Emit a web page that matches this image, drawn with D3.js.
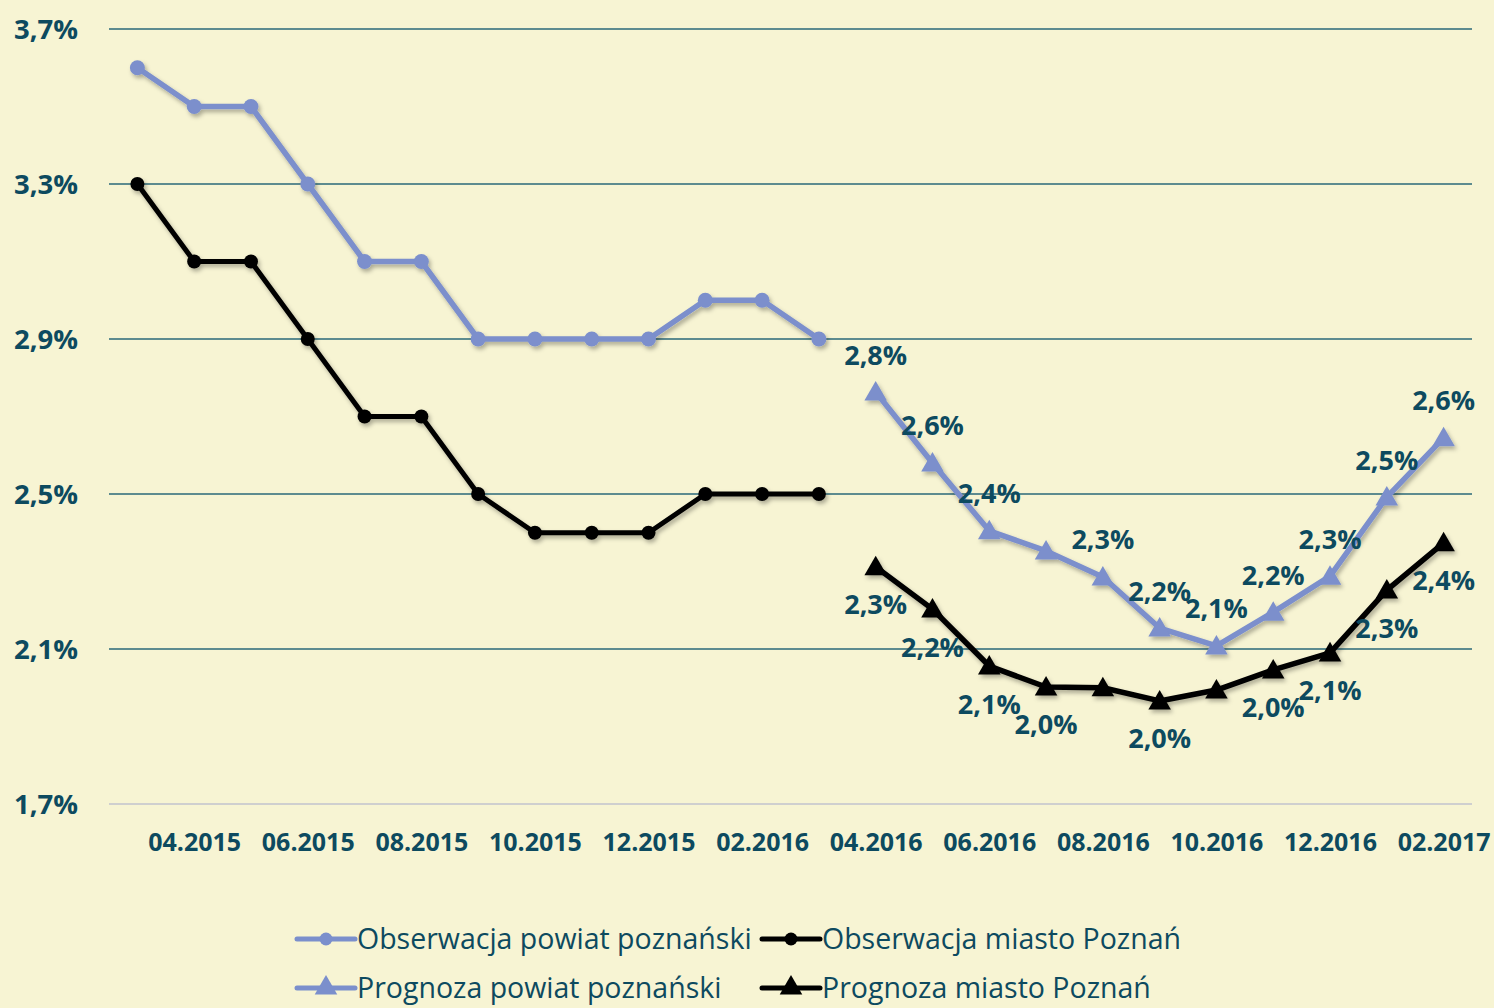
<!DOCTYPE html>
<html>
<head>
<meta charset="utf-8">
<script src="https://cdn.jsdelivr.net/npm/d3@7/dist/d3.min.js"></script>
<style>
  html, body { margin: 0; padding: 0; background: #F7F4D3; }
  svg { display: block; }
</style>
</head>
<body>
<svg id="chart" width="1494" height="1008"></svg>
<script>
// ---- DATA ----
const months = ["03.2015","04.2015","05.2015","06.2015","07.2015","08.2015","09.2015","10.2015","11.2015","12.2015","01.2016","02.2016","03.2016","04.2016","05.2016","06.2016","07.2016","08.2016","09.2016","10.2016","11.2016","12.2016","01.2017","02.2017"];
const tickLabels = ["04.2015","06.2015","08.2015","10.2015","12.2015","02.2016","04.2016","06.2016","08.2016","10.2016","12.2016","02.2017"];
const yTicks = [1.7, 2.1, 2.5, 2.9, 3.3, 3.7];

const obsPowiatMonths = months.slice(0, 13);
const obsPowiat = [3.6, 3.5, 3.5, 3.3, 3.1, 3.1, 2.9, 2.9, 2.9, 2.9, 3.0, 3.0, 2.9];
const obsMiasto = [3.3, 3.1, 3.1, 2.9, 2.7, 2.7, 2.5, 2.4, 2.4, 2.4, 2.5, 2.5, 2.5];

const progMonths = months.slice(13);
const progPowiat = [2.763, 2.580, 2.405, 2.353, 2.286, 2.154, 2.108, 2.195, 2.288, 2.492, 2.645];
const progPowiatLabels = ["2,8%","2,6%","2,4%",null,"2,3%","2,2%","2,1%","2,2%","2,3%","2,5%","2,6%"];
const progMiasto = [2.312, 2.203, 2.056, 2.002, 2.000, 1.966, 1.994, 2.046, 2.090, 2.252, 2.374];
const progMiastoLabels = ["2,3%","2,2%","2,1%","2,0%",null,"2,0%",null,"2,0%","2,1%","2,3%","2,4%"];

const legendItems = [
  {name: "Obserwacja powiat poznański", color: "#7B8FCC", symbol: "circle", col: 0, row: 0},
  {name: "Obserwacja miasto Poznań", color: "#000000", symbol: "circle", col: 1, row: 0},
  {name: "Prognoza powiat poznański", color: "#7B8FCC", symbol: "triangle", col: 0, row: 1},
  {name: "Prognoza miasto Poznań", color: "#000000", symbol: "triangle", col: 1, row: 1}
];

// ---- STYLE ----
const BLUE = "#7B8FCC", BLACK = "#000000", TEXT = "#0D4A5F", GRID = "#2A6878";
const FONT = "'Open Sans', 'DejaVu Sans', sans-serif";

const svg = d3.select("#chart");
svg.append("rect").attr("width",1494).attr("height",1008).attr("fill","#F7F4D3");

const defs = svg.append("defs");
const f = defs.append("filter").attr("id","shadow").attr("x","-20%").attr("y","-20%").attr("width","140%").attr("height","140%");
f.append("feDropShadow").attr("dx",2).attr("dy",3).attr("stdDeviation",2).attr("flood-color","#000").attr("flood-opacity",0.3);

const x = d3.scalePoint().domain(months).range([109, 1472]).padding(0.5);
const y = d3.scaleLinear().domain([1.7, 3.7]).range([804, 29]);

// gridlines
const grid = svg.append("g");
grid.selectAll("line").data(yTicks).join("line")
  .attr("x1", 109).attr("x2", 1472)
  .attr("y1", d => y(d)).attr("y2", d => y(d))
  .attr("stroke", d => d === 1.7 ? "#CFCFCF" : GRID)
  .attr("stroke-width", d => d === 1.7 ? 2 : 1.6);

// y axis labels
const yAxis = d3.axisLeft(y).tickValues(yTicks).tickSize(0).tickPadding(0)
  .tickFormat(d => d3.format(".1f")(d).replace(".", ",") + "%");
const yg = svg.append("g").attr("transform","translate(78,0)").call(yAxis);
yg.select(".domain").remove();
yg.selectAll("text").attr("fill", TEXT).attr("font-family", FONT).attr("font-weight", "bold")
  .attr("font-size", 27.5).attr("dy", "0.35em");

// x axis labels
const xAxis = d3.axisBottom(x).tickValues(tickLabels).tickSize(0).tickPadding(0);
const xg = svg.append("g").attr("transform","translate(0,842)").call(xAxis);
xg.select(".domain").remove();
xg.selectAll("text").attr("fill", TEXT).attr("font-family", FONT).attr("font-weight", "bold")
  .attr("font-size", 25).attr("dy", "0.35em");

const tri = d3.symbol().type(d3.symbolTriangle).size(220);
const triLeg = d3.symbol().type(d3.symbolTriangle).size(220);

function drawSeries(mths, vals, color, width, symbol, r) {
  const data = mths.map((m, i) => ({m, v: vals[i]}));
  const g = svg.append("g").attr("filter","url(#shadow)");
  g.append("path").datum(data)
    .attr("d", d3.line().x(d => x(d.m)).y(d => y(d.v)))
    .attr("fill","none").attr("stroke", color).attr("stroke-width", width)
    .attr("stroke-linejoin","round");
  if (symbol === "circle") {
    g.selectAll("circle").data(data).join("circle")
      .attr("cx", d => x(d.m)).attr("cy", d => y(d.v)).attr("r", r).attr("fill", color);
  } else {
    g.selectAll("path.m").data(data).join("path").attr("class","m")
      .attr("d", tri).attr("transform", d => `translate(${x(d.m)},${y(d.v)+2})`).attr("fill", color);
  }
  return data;
}

drawSeries(obsPowiatMonths, obsPowiat, BLUE, 5.5, "circle", 7.5);
drawSeries(obsPowiatMonths, obsMiasto, BLACK, 5, "circle", 7);
const pp = drawSeries(progMonths, progPowiat, BLUE, 5.5, "triangle");
const pm = drawSeries(progMonths, progMiasto, BLACK, 5.5, "triangle");

// data labels
function labels(data, labs, dy) {
  svg.append("g").selectAll("text").data(data.map((d, i) => ({...d, l: labs[i]})).filter(d => d.l))
    .join("text")
    .attr("x", d => x(d.m)).attr("y", d => y(d.v) + dy)
    .attr("text-anchor","middle").attr("dy","0.35em")
    .attr("fill", TEXT).attr("font-family", FONT).attr("font-weight","bold").attr("font-size", 27)
    .text(d => d.l);
}
labels(pp, progPowiatLabels, -37);
labels(pm, progMiastoLabels, 38);

// legend
const colX = [297, 762], rowY = [939, 988];
const lg = svg.append("g");
legendItems.forEach(it => {
  const x0 = colX[it.col], yy = rowY[it.row];
  lg.append("line").attr("x1", x0).attr("x2", x0 + 58).attr("y1", yy).attr("y2", yy)
    .attr("stroke", it.color).attr("stroke-width", 5).attr("stroke-linecap","round");
  if (it.symbol === "circle") {
    lg.append("circle").attr("cx", x0 + 29).attr("cy", yy).attr("r", 6.5).attr("fill", it.color);
  } else {
    lg.append("path").attr("d", triLeg).attr("transform", `translate(${x0 + 29},${yy})`).attr("fill", it.color);
  }
  lg.append("text").attr("x", x0 + 60).attr("y", yy).attr("dy","0.35em")
    .attr("fill", TEXT).attr("font-family", FONT).attr("font-size", 28.5)
    .text(it.name);
});
</script>
</body>
</html>
